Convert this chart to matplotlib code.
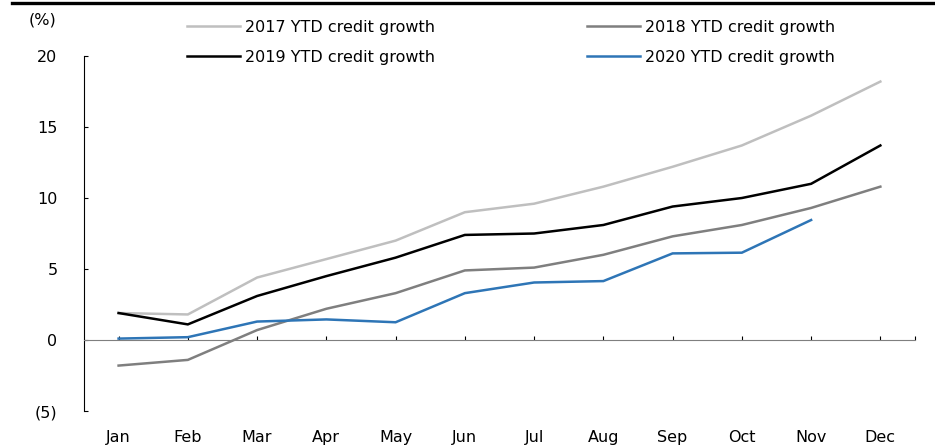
import numpy as np
import matplotlib
matplotlib.use("Agg")
import matplotlib.pyplot as plt
from matplotlib.lines import Line2D
from matplotlib.ticker import FuncFormatter

plt.rcParams["font.family"] = ["DejaVu Sans"]

# ---- data ----
months = ["Jan", "Feb", "Mar", "Apr", "May", "Jun",
          "Jul", "Aug", "Sep", "Oct", "Nov", "Dec"]
g2017 = [1.9, 1.8, 4.4, 5.7, 7.0, 9.0, 9.6, 10.8, 12.2, 13.7, 15.8, 18.2]
g2018 = [-1.8, -1.4, 0.7, 2.2, 3.3, 4.9, 5.1, 6.0, 7.3, 8.1, 9.3, 10.8]
g2019 = [1.9, 1.1, 3.1, 4.5, 5.8, 7.4, 7.5, 8.1, 9.4, 10.0, 11.0, 13.7]
g2020 = [0.1, 0.2, 1.3, 1.45, 1.25, 3.3, 4.05, 4.15, 6.1, 6.15, 8.45]
labels = ["2017 YTD credit growth", "2018 YTD credit growth",
          "2019 YTD credit growth", "2020 YTD credit growth"]
colors = ["#bfbfbf", "#7f7f7f", "#000000", "#2e75b6"]

fig = plt.figure(figsize=(9.35, 4.47), dpi=100, facecolor="white")
ax = fig.add_axes([0.0898, 0.0805, 0.8888, 0.7942])

x = np.arange(len(months))
series = [g2017, g2018, g2019, g2020]
handles = []
for vals, lab, c in zip(series, labels, colors):
    h, = ax.plot(x[:len(vals)], vals, color=c, lw=1.8, label=lab,
                 solid_joinstyle="miter")
    handles.append(h)

ax.set_xlim(-0.5, 11.5)
ax.set_ylim(-5, 20)

# spines: y axis on left, x axis sitting on zero
for s in ["top", "right"]:
    ax.spines[s].set_visible(False)
ax.spines["left"].set_color("#000000")
ax.spines["left"].set_linewidth(0.8)
ax.spines["bottom"].set_position(("data", 0))
ax.spines["bottom"].set_color("#7f7f7f")
ax.spines["bottom"].set_linewidth(0.8)

ax.set_yticks([-5, 0, 5, 10, 15, 20])
ax.yaxis.set_major_formatter(FuncFormatter(
    lambda v, p: f"({abs(int(v))})" if v < 0 else f"{int(v)}"))
ax.tick_params(axis="y", direction="in", length=3, width=0.8,
               pad=19, labelsize=11.5, colors="#000000")

ax.set_xticks(list(x) + [11.5])
ax.set_xticklabels(months + [""])
ax.tick_params(axis="x", direction="in", length=3, width=0.8,
               pad=65, labelsize=11.5, colors="#000000")

fig.text(0.045, 0.955, "(%)", fontsize=11.5, ha="center", va="center")

# legend: row 1 = 2017, 2018 ; row 2 = 2019, 2020 (column-major fill)
order = [0, 2, 1, 3]
leg = fig.legend([handles[i] for i in order], [labels[i] for i in order],
                 ncol=2, loc="center left", bbox_to_anchor=(0.185, 0.905),
                 frameon=False, fontsize=11.5, handlelength=3.3,
                 handletextpad=0.3, columnspacing=9.55, labelspacing=0.93)

# black rule across the top
fig.add_artist(Line2D([12 / 935, 1.0], [0.993, 0.993], color="black",
                      lw=2.4, transform=fig.transFigure))

fig.savefig("out.png", dpi=100, facecolor="white")
